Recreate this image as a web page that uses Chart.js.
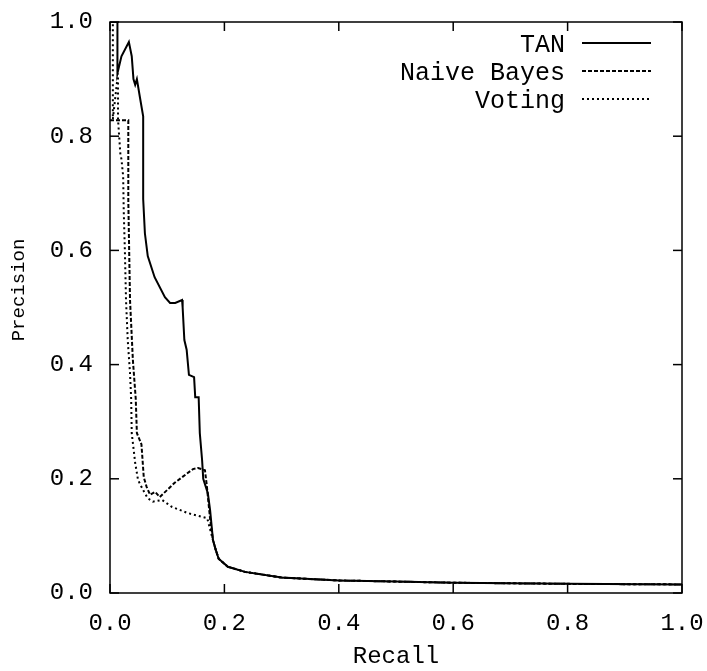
<!DOCTYPE html>
<html>
<head>
<meta charset="utf-8">
<script src="https://cdn.jsdelivr.net/npm/chart.js@4.4.0/dist/chart.umd.min.js"></script>
<style>
  body { margin: 0; background: #fff; }
  #contenedor { width: 707px; height: 671px; }
</style>
</head>
<body>
<div id="contenedor"><canvas id="plot"></canvas></div>
<script>
// Ticks de los ejes
let ticksX = [0, 0.2, 0.4, 0.6, 0.8, 1.0];
let ticksY = [0, 0.2, 0.4, 0.6, 0.8, 1.0];

// Cola comun de las tres curvas
let colaRecall = [0.19, 0.206, 0.236, 0.3, 0.4, 0.5, 0.6, 0.8, 1.0];
let colaPrecision = [0.060, 0.046, 0.037, 0.027, 0.022, 0.020, 0.018, 0.016, 0.015];

// TAN
let tanRecall = [0, 0.013, 0.013, 0.02, 0.033, 0.038, 0.041, 0.044, 0.047, 0.052, 0.058, 0.058, 0.061, 0.066, 0.078, 0.096, 0.105, 0.114, 0.126, 0.127, 0.13, 0.134, 0.138, 0.147, 0.149, 0.155, 0.157, 0.161, 0.163, 0.171, 0.175, 0.18, 0.185];
let tanPrecision = [1.0, 1.0, 0.91, 0.94, 0.965, 0.94, 0.90, 0.89, 0.90, 0.87, 0.835, 0.69, 0.63, 0.59, 0.553, 0.518, 0.508, 0.508, 0.513, 0.50, 0.443, 0.426, 0.382, 0.378, 0.343, 0.343, 0.28, 0.233, 0.20, 0.175, 0.145, 0.093, 0.075];

// Naive Bayes
let nbRecall = [0, 0.032, 0.032, 0.035, 0.04, 0.045, 0.047, 0.054, 0.055, 0.059, 0.064, 0.07, 0.079, 0.087, 0.113, 0.145, 0.154, 0.166, 0.169, 0.175, 0.18, 0.185];
let nbPrecision = [0.828, 0.828, 0.688, 0.513, 0.408, 0.34, 0.28, 0.263, 0.26, 0.203, 0.186, 0.172, 0.177, 0.168, 0.193, 0.217, 0.219, 0.215, 0.19, 0.13, 0.093, 0.075];

// Voting
let votRecall = [0, 0.005, 0.005, 0.014, 0.014, 0.016, 0.018, 0.02, 0.023, 0.024, 0.026, 0.028, 0.031, 0.035, 0.037, 0.038, 0.044, 0.049, 0.058, 0.066, 0.075, 0.091, 0.108, 0.136, 0.17, 0.178, 0.185];
let votPrecision = [1.0, 1.0, 0.83, 0.91, 0.83, 0.80, 0.77, 0.76, 0.73, 0.67, 0.60, 0.513, 0.443, 0.385, 0.34, 0.28, 0.228, 0.198, 0.18, 0.166, 0.16, 0.163, 0.151, 0.14, 0.131, 0.10, 0.075];

let armarPuntos = (rs, ps) => rs.concat(colaRecall).map((r, i) => ({x: r, y: ps.concat(colaPrecision)[i]}));

let familia = "'Liberation Mono', 'DejaVu Sans Mono', monospace";
let fuente = {family: familia, size: 24};

// Dibuja el marco, los ticks hacia adentro, el titulo vertical y la leyenda estilo gnuplot
let marcoPlugin = {
  id: 'marco',
  afterDatasetsDraw(chart) {
    let {ctx, chartArea: a, scales} = chart;
    let linea = (x1, y1, x2, y2) => { ctx.beginPath(); ctx.moveTo(x1, y1); ctx.lineTo(x2, y2); ctx.stroke(); };
    ctx.save();
    ctx.strokeStyle = '#000';
    ctx.lineWidth = 1.5;
    ctx.strokeRect(a.left, a.top, a.right - a.left, a.bottom - a.top);
    let largo = 9;
    ticksX.forEach(v => {
      let x = scales.x.getPixelForValue(v);
      linea(x, a.bottom, x, a.bottom - largo);
      linea(x, a.top, x, a.top + largo);
    });
    ticksY.forEach(v => {
      let y = scales.y.getPixelForValue(v);
      linea(a.left, y, a.left + largo, y);
      linea(a.right, y, a.right - largo, y);
    });
    ctx.fillStyle = '#000';
    // titulo del eje y
    ctx.save();
    ctx.translate(19, 290);
    ctx.rotate(-Math.PI / 2);
    ctx.font = "19px " + familia;
    ctx.textAlign = 'center';
    ctx.textBaseline = 'middle';
    ctx.fillText('Precision', 0, 0);
    ctx.restore();
    // leyenda
    ctx.font = "25px " + familia;
    ctx.textAlign = 'right';
    ctx.textBaseline = 'alphabetic';
    chart.data.datasets.forEach((ds, i) => {
      let y = 43 + i * 28;
      ctx.fillText(ds.label, 565, y + 9);
      ctx.lineWidth = ds.borderWidth;
      ctx.setLineDash(ds.borderDash || []);
      linea(582, y, 651, y);
    });
    ctx.restore();
  }
};

let sinPadding = s => { s.paddingLeft = 0; s.paddingRight = 0; s.paddingTop = 0; s.paddingBottom = 0; };

let config = {
  type: 'scatter',
  data: {
    datasets: [
      {label: 'TAN', data: armarPuntos(tanRecall, tanPrecision), borderColor: '#000', borderWidth: 2, borderDash: []},
      {label: 'Naive Bayes', data: armarPuntos(nbRecall, nbPrecision), borderColor: '#000', borderWidth: 2, borderDash: [4, 2]},
      {label: 'Voting', data: armarPuntos(votRecall, votPrecision), borderColor: '#000', borderWidth: 2, borderDash: [2, 3]}
    ]
  },
  options: {
    responsive: true,
    maintainAspectRatio: false,
    animation: false,
    showLine: true,
    elements: {point: {radius: 0, hoverRadius: 0}, line: {tension: 0, fill: false}},
    layout: {padding: {left: 0, right: 25, top: 22, bottom: 0}},
    plugins: {legend: {display: false}, tooltip: {enabled: false}},
    scales: {
      x: {
        type: 'linear', min: 0, max: 1,
        afterFit: s => { s.height = 78; sinPadding(s); },
        afterBuildTicks: s => { s.ticks = ticksX.map(v => ({value: v})); },
        grid: {display: false, drawTicks: false},
        border: {display: false},
        ticks: {color: '#000', font: fuente, padding: 16, maxRotation: 0, callback: v => v.toFixed(1)},
        title: {display: true, text: 'Recall', color: '#000', font: fuente, padding: {top: 0, bottom: 0}}
      },
      y: {
        type: 'linear', min: 0, max: 1,
        afterFit: s => { s.width = 110; sinPadding(s); },
        afterBuildTicks: s => { s.ticks = ticksY.map(v => ({value: v})); },
        grid: {display: false, drawTicks: false},
        border: {display: false},
        ticks: {color: '#000', font: fuente, padding: 17, callback: v => v.toFixed(1)},
        title: {display: false}
      }
    }
  },
  plugins: [marcoPlugin]
};

let chart1 = new Chart(document.getElementById('plot'), config);
</script>
</body>
</html>
